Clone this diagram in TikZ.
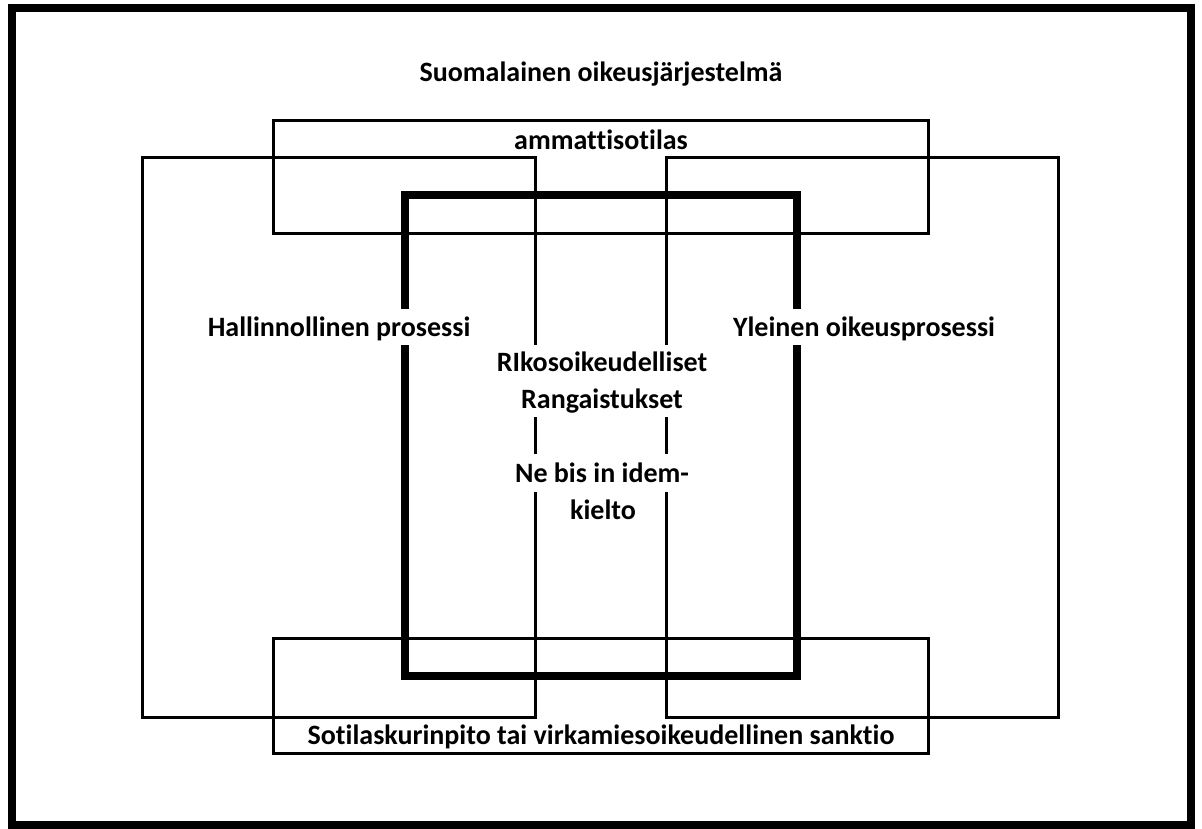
\documentclass[tikz,border=0pt]{standalone}
\usepackage{fontspec}
\setmainfont[Ligatures=CommonOff]{Carlito}
\begin{document}
\begin{tikzpicture}[x=1pt,y=-1pt,
  framebox/.style={line width=8pt},
  thinbox/.style={line width=3pt},
  thickbox/.style={line width=8pt},
  lbl/.style={font=\bfseries\fontsize{28}{37}\selectfont, inner sep=0pt, text depth=0.25ex},
  masked/.style={lbl, fill=white, inner xsep=2pt}]
\useasboundingbox (0,0) rectangle (1202,828);
\draw[framebox] (11.5,7.5) rectangle (1191,825);
\draw[thinbox] (273,120) rectangle (928,233);
\draw[thinbox] (142,157) rectangle (535,717);
\draw[thinbox] (666,157) rectangle (1058,717);
\draw[thinbox] (273,638) rectangle (928,753);
\draw[thickbox] (405,195) rectangle (797,676);
\node[lbl] (title) at (601,72) {Suomalainen oikeusjärjestelmä};
\node[lbl] (prof) at (601,140) {ammattisotilas};
\node[masked, minimum height=36pt] (admin) at (339,327) {Hallinnollinen prosessi};
\node[masked, minimum height=36pt] (court) at (864,327) {Yleinen oikeusprosessi};
\node[masked, align=center, minimum height=72pt] (crim) at (602,381) {RIkosoikeudelliset\\Rangaistukset};
\node[masked, minimum height=38pt] (nebis) at (602,473) {Ne bis in idem-};
\node[masked] (kielto) at (603,510) {kielto};
\node[lbl] (sanction) at (601,735) {Sotilaskurinpito tai virkamiesoikeudellinen sanktio};
\end{tikzpicture}
\end{document}
